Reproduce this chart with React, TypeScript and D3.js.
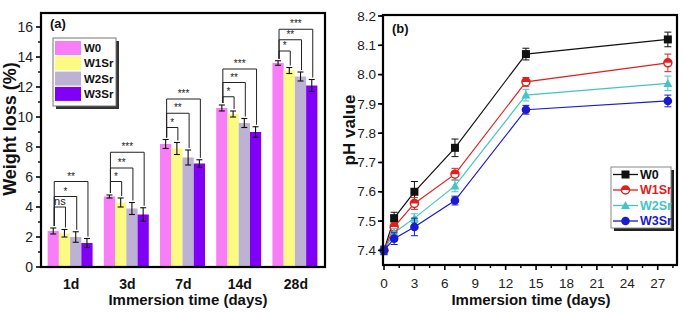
import React from "react";
import * as d3 from "d3";

// ---------- Panel (a) data ----------
const categories = ["1d", "3d", "7d", "14d", "28d"];
const seriesA = ["W0", "W1Sr", "W2Sr", "W3Sr"];
const colorsA = ["#f77ef7", "#fbfb84", "#bdb2d4", "#7f00f5"];
const lossW0 = [2.4, 4.7, 8.2, 10.6, 13.6];
const lossW1 = [2.25, 4.3, 7.9, 10.2, 13.1];
const lossW2 = [2.0, 3.9, 7.3, 9.6, 12.7];
const lossW3 = [1.6, 3.5, 6.9, 9.0, 12.1];
const errW0 = [0.2, 0.1, 0.3, 0.2, 0.15];
const errW1 = [0.25, 0.3, 0.4, 0.2, 0.2];
const errW2 = [0.35, 0.4, 0.5, 0.3, 0.3];
const errW3 = [0.3, 0.45, 0.25, 0.35, 0.4];
const bracketLevels = [
  [4.0, 4.7, 5.7],
  [5.7, 6.6, 7.65],
  [9.3, 10.25, 11.2],
  [11.35, 12.3, 13.2],
  [14.4, 15.15, 15.85],
];
const bracketLabels = [
  ["ns", "*", "**"],
  ["*", "**", "***"],
  ["*", "**", "***"],
  ["*", "**", "***"],
  ["*", "**", "***"],
];
const yTicksA = [0, 2, 4, 6, 8, 10, 12, 14, 16];

// ---------- Panel (b) data ----------
const days = [0, 1, 3, 7, 14, 28];
const seriesB = ["W0", "W1Sr", "W2Sr", "W3Sr"];
const colorsB = ["#111111", "#e0201e", "#45c4c4", "#1a1ad0"];
const phW0 = [7.4, 7.51, 7.6, 7.75, 8.07, 8.12];
const phW1 = [7.4, 7.48, 7.56, 7.66, 7.975, 8.04];
const phW2 = [7.4, 7.46, 7.51, 7.62, 7.93, 7.97];
const phW3 = [7.4, 7.44, 7.48, 7.57, 7.88, 7.91];
const phErrW0 = [0.01, 0.02, 0.035, 0.03, 0.02, 0.025];
const phErrW1 = [0.01, 0.015, 0.02, 0.02, 0.015, 0.03];
const phErrW2 = [0.01, 0.015, 0.015, 0.02, 0.02, 0.025];
const phErrW3 = [0.015, 0.02, 0.03, 0.015, 0.015, 0.02];
const xTicksB = [0, 3, 6, 9, 12, 15, 18, 21, 24, 27];
const yTicksB = [7.4, 7.5, 7.6, 7.7, 7.8, 7.9, 8.0, 8.1, 8.2];

const FONT = "'Liberation Sans', Arial, sans-serif";

function Marker({ kind, x, y, color }: { kind: number; x: number; y: number; color: string }) {
  if (kind === 0) return <rect x={x - 4} y={y - 4} width={8} height={8} fill={color} />;
  if (kind === 1)
    return (
      <g>
        <circle cx={x} cy={y} r={4} fill="#fff" stroke={color} strokeWidth={1.5} />
        <path d={`M${x - 4},${y} A4,4 0 0 1 ${x + 4},${y} Z`} fill={color} />
      </g>
    );
  if (kind === 2)
    return <path d={`M${x},${y - 4.5} L${x + 4.5},${y + 3.5} L${x - 4.5},${y + 3.5} Z`} fill={color} />;
  return <circle cx={x} cy={y} r={4.3} fill={color} />;
}

export default function App() {
  const W = 685, H = 313;
  // Panel A scales
  const aL = 41, aR = 325, aT = 12, aB = 267;
  const yA = d3.scaleLinear().domain([0, 17]).range([aB, aT]);
  const xA = d3.scaleBand<string>().domain(categories).range([42, 323]).padding(0);
  const xInner = d3.scaleBand<string>().domain(seriesA).range([0, xA.bandwidth()]).paddingInner(0).paddingOuter(0.5);
  const lossData = [lossW0, lossW1, lossW2, lossW3];
  const errData = [errW0, errW1, errW2, errW3];
  const minorA = d3.range(1, 17, 2);

  // Panel B scales
  const bL = 383, bR = 677, bT = 15, bB = 265;
  const xB = d3.scaleLinear().domain([0, 29]).range([384, 678]);
  const yB = d3.scaleLinear().domain([7.35, 8.2]).range([bB, 16]);
  const phData = [phW0, phW1, phW2, phW3];
  const phErr = [phErrW0, phErrW1, phErrW2, phErrW3];
  const minorXB = d3.range(1.5, 29, 3);
  const minorYB = d3.range(7.35, 8.2, 0.1).map((v) => +v.toFixed(2));
  const line = d3.line<number>().x((_, i) => xB(days[i])).y((d) => yB(d));

  return (
    <svg width={W} height={H} style={{ display: "block", position: "absolute", left: 0, top: 0, background: "#fff" }} fontFamily={FONT}>
      <rect width={W} height={H} fill="#fff" />
      {/* ===== Panel A ===== */}
      {categories.map((c, ci) => (
        <g key={c}>
          {seriesA.map((s, si) => {
            const x0 = xA(c)! + xInner(s)!;
            const v = lossData[si][ci];
            const e = errData[si][ci];
            const cx = x0 + xInner.bandwidth() / 2;
            return (
              <g key={s}>
                <rect x={x0} y={yA(v)} width={xInner.bandwidth()} height={aB - yA(v)} fill={colorsA[si]} />
                <line x1={cx} x2={cx} y1={yA(v + e)} y2={yA(v - e)} stroke="#111" strokeWidth={1.1} />
                <line x1={cx - 3} x2={cx + 3} y1={yA(v + e)} y2={yA(v + e)} stroke="#111" strokeWidth={1.1} />
                <line x1={cx - 3} x2={cx + 3} y1={yA(v - e)} y2={yA(v - e)} stroke="#111" strokeWidth={1.1} />
              </g>
            );
          })}
          {bracketLevels[ci].map((lv, k) => {
            const s0 = seriesA[0];
            const s1 = seriesA[k + 1];
            const x1 = xA(c)! + xInner(s0)! + xInner.bandwidth() / 2 + 1;
            const x2 = xA(c)! + xInner(s1)! + xInner.bandwidth() / 2 + 1;
            const yl = yA(lv);
            const y1b = yA(lossData[0][ci] + errData[0][ci]) - 2;
            const y2b = yA(lossData[k + 1][ci] + errData[k + 1][ci]) - 2;
            const lab = bracketLabels[ci][k];
            return (
              <g key={k}>
                <path d={`M${x1},${y1b} V${yl} H${x2} V${y2b}`} fill="none" stroke="#222" strokeWidth={1} />
                <text x={(x1 + x2) / 2} y={yl - 2} textAnchor="middle" fontSize={lab === "ns" ? 11 : 10} fill="#222">
                  {lab}
                </text>
              </g>
            );
          })}
          <text x={xA(c)! + xA.bandwidth() / 2 + 1} y={289} textAnchor="middle" fontSize={14} fontWeight="bold" fill="#111">
            {c}
          </text>
        </g>
      ))}
      {/* frame A */}
      <rect x={aL} y={aT + 1} width={aR - aL} height={aB - aT - 1} fill="none" stroke="#000" strokeWidth={2.2} />
      {yTicksA.map((t) => (
        <g key={t}>
          <line x1={aL - 5} x2={aL} y1={yA(t)} y2={yA(t)} stroke="#000" strokeWidth={1.6} />
          <text x={33} y={yA(t)} dy="0.35em" textAnchor="end" fontSize={14} fill="#222">
            {t}
          </text>
        </g>
      ))}
      {minorA.map((t) => (
        <line key={t} x1={aL - 3} x2={aL} y1={yA(t)} y2={yA(t)} stroke="#000" strokeWidth={1.4} />
      ))}
      <text x={50} y={28} fontSize={13} fontWeight="bold" fill="#111">(a)</text>
      <text transform={`translate(16,129) rotate(-90)`} textAnchor="middle" fontSize={18} fontWeight="bold" fill="#111">
        Weight loss (%)
      </text>
      <text x={188} y={305} textAnchor="middle" fontSize={15} fontWeight="bold" fill="#111">
        Immersion time (days)
      </text>
      {/* legend A */}
      <g>
        <rect x={56} y={41} width={63} height={68} fill="#333" />
        <rect x={53} y={38} width={63} height={68} fill="#fff" stroke="#777" strokeWidth={1} />
        {seriesA.map((s, i) => (
          <g key={s}>
            <rect x={55} y={41 + i * 15.3} width={26} height={14} fill={colorsA[i]} />
            <text x={84} y={41 + i * 15.3 + 7} dy="0.35em" fontSize={11.5} fontWeight="bold" fill="#111">
              {s}
            </text>
          </g>
        ))}
      </g>

      {/* ===== Panel B ===== */}
      {phData.map((arr, si) => (
        <path key={si} d={line(arr)!} fill="none" stroke={colorsB[si]} strokeWidth={1.2} />
      ))}
      {phData.map((arr, si) =>
        arr.map((v, i) => {
          const cx = xB(days[i]);
          const e = phErr[si][i];
          return (
            <g key={`${si}-${i}`}>
              <line x1={cx} x2={cx} y1={yB(v + e)} y2={yB(v - e)} stroke={colorsB[si]} strokeWidth={1} />
              <line x1={cx - 3.5} x2={cx + 3.5} y1={yB(v + e)} y2={yB(v + e)} stroke={colorsB[si]} strokeWidth={1} />
              <line x1={cx - 3.5} x2={cx + 3.5} y1={yB(v - e)} y2={yB(v - e)} stroke={colorsB[si]} strokeWidth={1} />
              <Marker kind={si} x={cx} y={yB(v)} color={colorsB[si]} />
            </g>
          );
        })
      )}
      <rect x={bL} y={bT} width={bR - bL} height={bB - bT} fill="none" stroke="#000" strokeWidth={2.2} />
      {yTicksB.map((t) => (
        <g key={t}>
          <line x1={bL - 5} x2={bL} y1={yB(t)} y2={yB(t)} stroke="#000" strokeWidth={1.6} />
          <text x={376} y={yB(t)} dy="0.35em" textAnchor="end" fontSize={13.5} fill="#222">
            {t.toFixed(1)}
          </text>
        </g>
      ))}
      {minorYB.map((t) => (
        <line key={t} x1={bL - 3} x2={bL} y1={yB(t + 0.05)} y2={yB(t + 0.05)} stroke="#000" strokeWidth={1.4} />
      ))}
      {xTicksB.map((t) => (
        <g key={t}>
          <line x1={xB(t)} x2={xB(t)} y1={bB} y2={bB + 5} stroke="#000" strokeWidth={1.6} />
          <text x={xB(t)} y={288} textAnchor="middle" fontSize={13.5} fill="#222">
            {t}
          </text>
        </g>
      ))}
      {minorXB.map((t) => (
        <line key={t} x1={xB(t)} x2={xB(t)} y1={bB} y2={bB + 3} stroke="#000" strokeWidth={1.4} />
      ))}
      <text x={392} y={33} fontSize={13} fontWeight="bold" fill="#111">(b)</text>
      <text transform={`translate(355,130) rotate(-90)`} textAnchor="middle" fontSize={17} fontWeight="bold" fill="#111">
        pH value
      </text>
      <text x={531} y={305} textAnchor="middle" fontSize={15} fontWeight="bold" fill="#111">
        Immersion time (days)
      </text>
      {/* legend B */}
      <g>
        <rect x={614} y={170} width={60} height={61} fill="#222" />
        <rect x={611} y={167} width={60} height={61} fill="#fff" stroke="#888" strokeWidth={1} />
        {seriesB.map((s, i) => {
          const yy = 174.5 + i * 15.5;
          return (
            <g key={s}>
              <line x1={613} x2={638} y1={yy} y2={yy} stroke={colorsB[i]} strokeWidth={1.3} />
              <Marker kind={i} x={625.5} y={yy} color={colorsB[i]} />
              <text x={640} y={yy} dy="0.35em" fontSize={12.5} fontWeight="bold" fill={colorsB[i]}>
                {s}
              </text>
            </g>
          );
        })}
      </g>
    </svg>
  );
}
